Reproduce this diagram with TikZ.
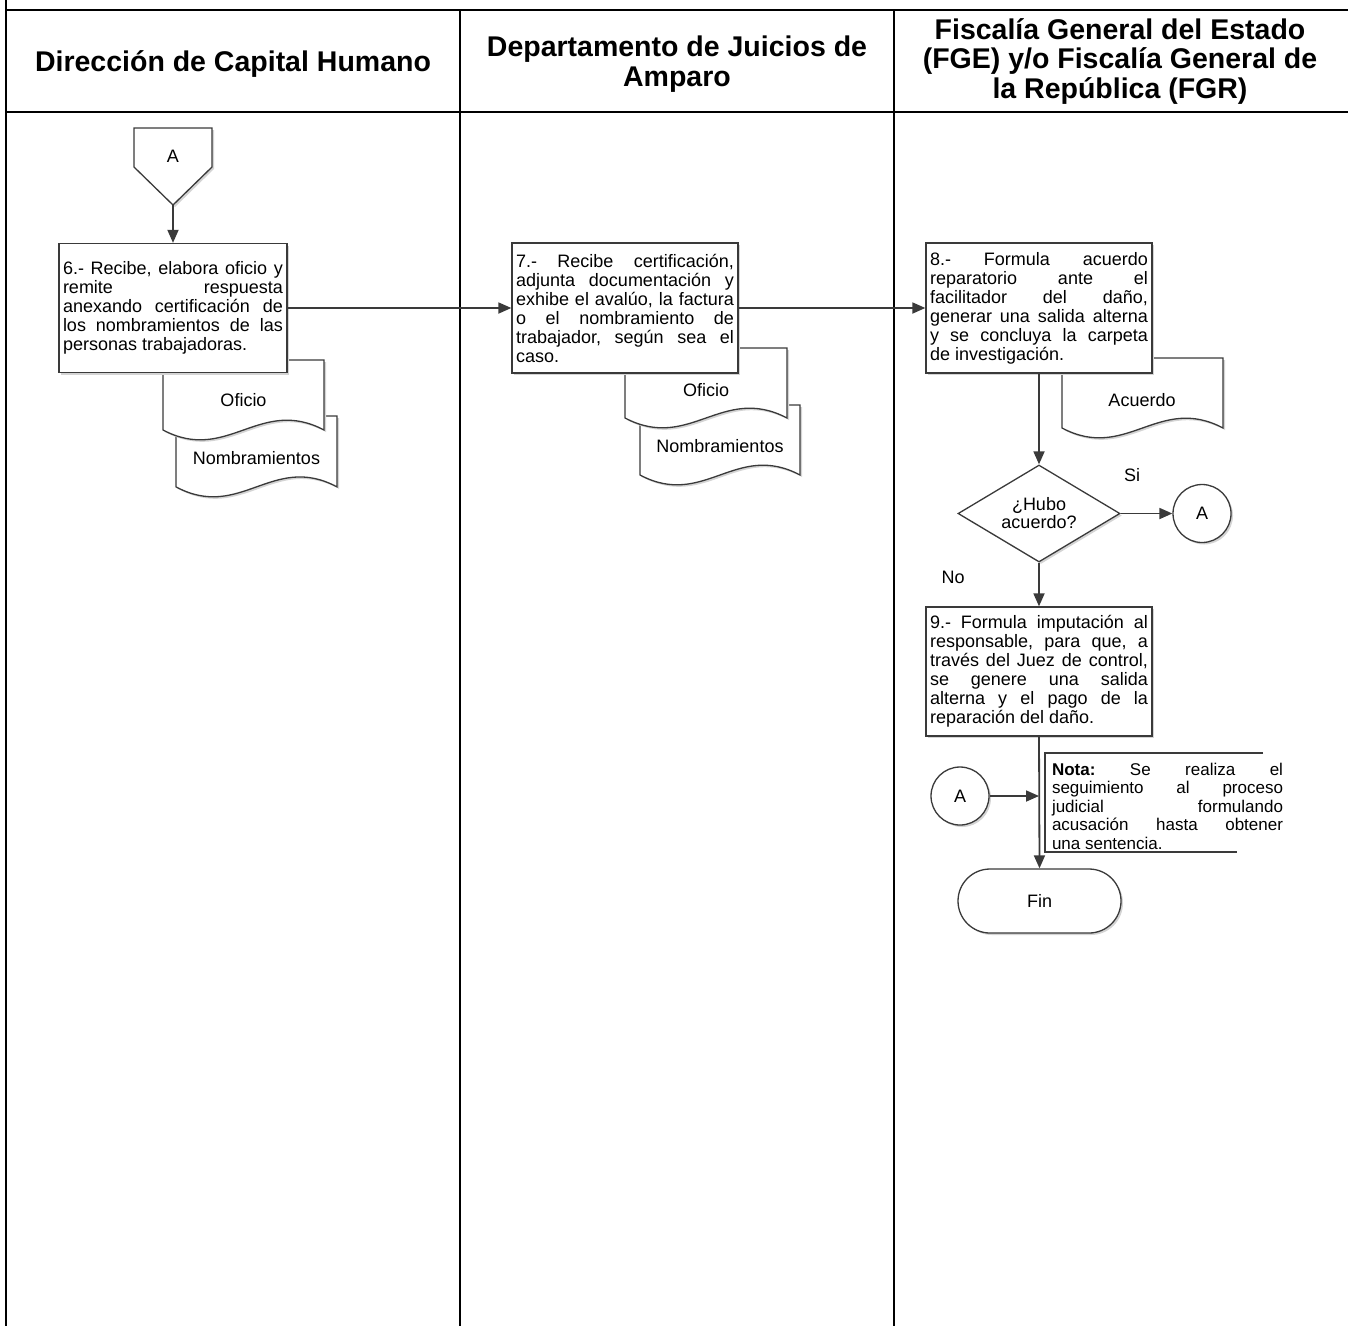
\documentclass[tikz,border=0pt]{standalone}
\usepackage{fontspec}
\setmainfont{Liberation Sans}
\usetikzlibrary{arrows.meta,shapes.geometric,shadows}
\definecolor{ln}{HTML}{3A3A3A}
\definecolor{shd}{HTML}{D4D4D4}
\newcommand\docshape[4]{%
  \fill[shd,shift={(#1+2,#2+2)}] (0,0) -- (#3,0) -- (#3,0.875*#4) .. controls (0.6*#3,0.45*#4) and (0.4*#3,1.3*#4) .. (0,0.875*#4) -- cycle;
  \filldraw[draw=ln,fill=white,line width=1.3pt,shift={(#1,#2)}] (0,0) -- (#3,0) -- (#3,0.875*#4) .. controls (0.6*#3,0.45*#4) and (0.4*#3,1.3*#4) .. (0,0.875*#4) -- cycle;
}
\begin{document}
\begin{tikzpicture}[x=1pt,y=-1pt,
  every node/.style={text=black},
  hdr/.style={font=\bfseries\fontsize{28.5}{29.5}\selectfont, align=center, inner sep=0pt},
  proc/.style={draw=ln, line width=1.3pt, fill=white, inner sep=0pt,
    minimum height=129pt, align=justify,
    font=\fontsize{18}{19}\selectfont,
    execute at begin node={\frenchspacing\tolerance=10000\pretolerance=-1\hbadness=10000\hyphenpenalty=10000},
    drop shadow={shadow xshift=2pt,shadow yshift=-2pt,fill=shd,opacity=1}},
  lbl/.style={font=\fontsize{18}{19}\selectfont, inner sep=0pt},
  conn/.style={draw=ln, line width=1.8pt, -{Triangle[length=13pt,width=11pt]}},
  circ/.style={circle, draw=ln, line width=1.3pt, fill=white, minimum size=58pt, inner sep=0pt,
    font=\fontsize{18}{19}\selectfont,
    drop shadow={shadow xshift=2pt,shadow yshift=-2pt,fill=shd,opacity=1}}
]
\useasboundingbox (0,0) rectangle (1348,1326);
% table
\draw[line width=1.8pt] (6,0) -- (6,1326);
\draw[line width=2pt] (6,10) -- (1348,10);
\draw[line width=2.4pt] (6,112) -- (1348,112);
\draw[line width=1.5pt] (460,10) -- (460,1326);
\draw[line width=1.5pt] (894,10) -- (894,1326);
\node[hdr] (h1) at (233,64.5) {Dirección de Capital Humano};
\node[hdr] (h2) at (677,64) {Departamento de Juicios de\\Amparo};
\node[hdr] (h3) at (1120,61.5) {Fiscalía General del Estado\\(FGE) y/o Fiscalía General de\\la República (FGR)};

% off-page connector
\fill[shd,shift={(2,2)}] (134,128) -- (212,128) -- (212,167) -- (173,205) -- (134,167) -- cycle;
\filldraw[draw=ln,fill=white,line width=1.3pt] (134,128) -- (212,128) -- (212,167) -- (173,205) -- (134,167) -- cycle;
\node[lbl] (offA) at (173,156) {A};
\coordinate (offBot) at (173,205);

% documents
\docshape{176}{416}{161}{81}
\docshape{163}{360}{161}{80}
\node[lbl] (nomL) at (256.5,458) {Nombramientos};
\node[lbl] (ofiL) at (243.5,400) {Oficio};
\docshape{640}{405}{160}{80}
\docshape{625}{348}{162}{80}
\node[lbl] (nomM) at (720,446) {Nombramientos};
\node[lbl] (ofiM) at (706,390) {Oficio};
\docshape{1062}{358}{161}{80}
\node[lbl] (acu) at (1142,400) {Acuerdo};

% process boxes
\node[proc, minimum width=228pt, text width=220pt] (b6) at (173,308)
 {6.- Recibe, elabora oficio y\linebreak remite respuesta\linebreak anexando certificación de\linebreak los nombramientos de las\linebreak personas trabajadoras.};
\node[proc, minimum width=226pt, text width=218pt, minimum height=130pt] (b7) at (625,308)
 {7.- Recibe certificación,\linebreak adjunta documentación y\linebreak exhibe el avalúo, la factura\linebreak o el nombramiento de\linebreak trabajador, según sea el\linebreak caso.};
\node[proc, minimum width=226pt, text width=218pt, minimum height=130pt] (b8) at (1039,308)
 {8.- Formula acuerdo\linebreak reparatorio ante el\linebreak facilitador del daño,\linebreak generar una salida alterna\linebreak y se concluya la carpeta\linebreak de investigación.};
\node[proc, minimum width=226pt, text width=218pt] (b9) at (1039,671.5)
 {9.- Formula imputación al\linebreak responsable, para que, a\linebreak través del Juez de control,\linebreak se genere una salida\linebreak alterna y el pago de la\linebreak reparación del daño.};

% decision
\node[diamond, aspect=1.7, draw=ln, line width=1.3pt, fill=white, minimum width=162pt, minimum height=97pt,
  inner sep=0pt, align=center, font=\fontsize{18}{18}\selectfont,
  drop shadow={shadow xshift=2pt,shadow yshift=-2pt,fill=shd,opacity=1}] (dec) at (1039,513.5) {¿Hubo\\acuerdo?};
\node[circ] (cA1) at (1202,513.5) {A};
\node[lbl] (si) at (1132,475) {Si};
\node[lbl] (no) at (953,577) {No};

% end
\node[draw=ln, line width=1.3pt, fill=white, rounded corners=32pt, minimum width=163pt, minimum height=64pt,
  inner sep=0pt, font=\fontsize{18}{19}\selectfont,
  drop shadow={shadow xshift=2pt,shadow yshift=-2pt,fill=shd,opacity=1}] (fin) at (1039.5,901) {Fin};

\node[circ] (cA2) at (960,796) {A};
\coordinate (jn) at (1039,796);

% note
\coordinate (n1) at (1263,753);
\coordinate (n2) at (1045,753);
\coordinate (n3) at (1045,852);
\coordinate (n4) at (1237,852);
\draw[draw=ln, line width=1.3pt] (n1) -- (n2) -- (n3) -- (n4);
\node[inner sep=0pt, text width=231pt, align=justify, font=\fontsize{17}{18.5}\selectfont,
  execute at begin node={\frenchspacing\tolerance=10000\pretolerance=-1\hbadness=10000\hyphenpenalty=10000}] (nota) at (1167.5,806)
 {\textbf{Nota:} Se realiza el\linebreak seguimiento al proceso\linebreak judicial formulando\linebreak acusación hasta obtener\linebreak una sentencia.};

% connectors
\draw[conn] (offBot) -- (b6.north);
\draw[conn] (b6.east) -- (b7.west);
\draw[conn] (b7.east) -- (b8.west);
\draw[conn] (b8.south) -- (dec.north);
\draw[conn] (dec.east) -- (cA1.west);
\draw[conn] (dec.south) -- (b9.north);
\draw[conn] (b9.south) -- (fin.north);
\draw[conn] (cA2.east) -- (jn);
\end{tikzpicture}
\end{document}
